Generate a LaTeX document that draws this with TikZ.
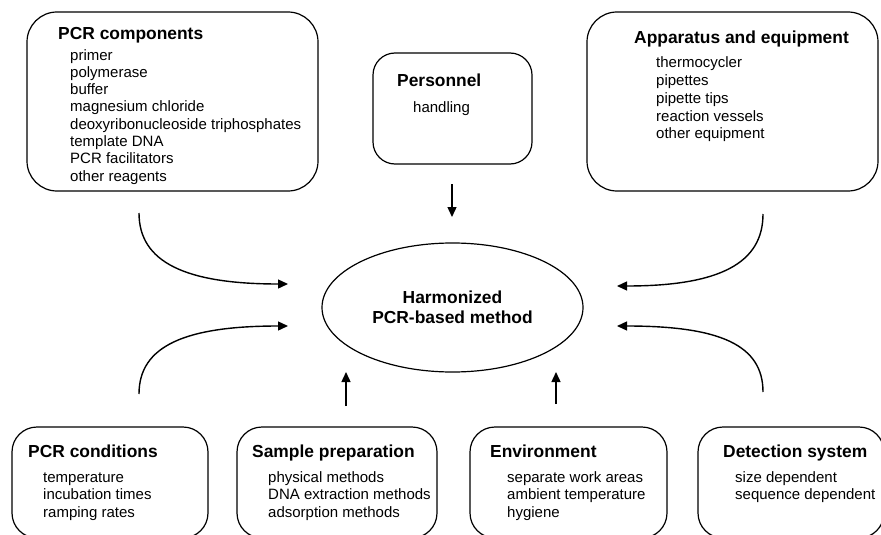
\documentclass[tikz,border=0pt]{standalone}
\usepackage{fontspec}
\setmainfont{Liberation Sans}
\usetikzlibrary{shapes.geometric,arrows.meta}
\begin{document}
\begin{tikzpicture}[x=1pt,y=-1pt,
  box/.style={draw=black, line width=1.2pt, rectangle, inner sep=0pt},
  bigbox/.style={box, rounded corners=30pt, minimum width=291pt, minimum height=179pt},
  lowbox/.style={box, rounded corners=25pt, minimum height=111pt},
  ttl/.style={font=\fontsize{17.4}{20}\selectfont\bfseries, anchor=base west, inner sep=0pt},
  itm/.style={font=\fontsize{15}{17}\selectfont, anchor=base west, inner sep=0pt},
  arr/.style={line width=1.4pt, -{Triangle[length=10pt,width=9pt]}}]
\path[use as bounding box, clip] (0,0) rectangle (881,535);
\fill[white] (0,0) rectangle (881,535);

% top boxes
\node[bigbox] (comp) at (172.5,101.5) {};
\node[ttl] (compT) at (58,40) {PCR components};
\foreach \t [count=\i from 0] in {primer,polymerase,buffer,magnesium chloride,deoxyribonucleoside triphosphates,template DNA,PCR facilitators,other reagents}
  \node[itm] (comp\i) at (70,60+17.3*\i) {\t};

\node[box, rounded corners=22pt, minimum width=159pt, minimum height=111pt] (pers) at (452.5,108.5) {};
\node[ttl] (persT) at (397,86) {Personnel};
\node[itm] (pers0) at (413,112) {handling};

\node[bigbox] (app) at (732.5,101.5) {};
\node[ttl] (appT) at (634,44) {Apparatus and equipment};
\foreach \t [count=\i from 0] in {thermocycler,pipettes,pipette tips,reaction vessels,other equipment}
  \node[itm] (app\i) at (656,68+17.7*\i) {\t};

% centre
\node[ellipse, draw=black, line width=1.2pt, minimum width=261pt, minimum height=129pt,
      align=center, font=\fontsize{17.4}{20}\selectfont\bfseries] (harm) at (452.5,307.5)
      {Harmonized\\PCR-based method};

% bottom boxes
\node[lowbox, minimum width=196pt] (cond) at (110,482.5) {};
\node[ttl] (condT) at (28,457) {PCR conditions};
\foreach \t [count=\i from 0] in {temperature,incubation times,ramping rates}
  \node[itm] (cond\i) at (43,482+17.5*\i) {\t};

\node[lowbox, minimum width=200pt] (samp) at (337,482.5) {};
\node[ttl] (sampT) at (252,457) {Sample preparation};
\foreach \t [count=\i from 0] in {physical methods,DNA extraction methods,adsorption methods}
  \node[itm] (samp\i) at (268,482+17.5*\i) {\t};

\node[lowbox, minimum width=197pt] (env) at (568.5,482.5) {};
\node[ttl] (envT) at (490,457) {Environment};
\foreach \t [count=\i from 0] in {separate work areas,ambient temperature,hygiene}
  \node[itm] (env\i) at (507,482+17.5*\i) {\t};

\node[lowbox, minimum width=186pt] (det) at (791,482.5) {};
\node[ttl] (detT) at (723,457) {Detection system};
\foreach \t [count=\i from 0] in {size dependent,sequence dependent}
  \node[itm] (det\i) at (735,482+17.5*\i) {\t};

% connector end points
\coordinate (tlS) at (139,213); \coordinate (tlE) at (288,284);
\coordinate (blS) at (139,394); \coordinate (blE) at (288,326);
\coordinate (trS) at (763,214); \coordinate (trE) at (617,286);
\coordinate (brS) at (763,392); \coordinate (brE) at (617,326);
\coordinate (pS) at (452,184);  \coordinate (pE) at (452,217);
\coordinate (sS) at (346,406);  \coordinate (sE) at (346,372);
\coordinate (eS) at (556,404);  \coordinate (eE) at (556,372);

\draw[arr] (tlS) .. controls (139,262) and (185,284) .. (tlE);
\draw[arr] (blS) .. controls (139,346) and (185,326) .. (blE);
\draw[arr] (trS) .. controls (763,263) and (720,286) .. (trE);
\draw[arr] (brS) .. controls (763,345) and (720,326) .. (brE);
\draw[arr] (pS) -- (pE);
\draw[arr] (sS) -- (sE);
\draw[arr] (eS) -- (eE);
\end{tikzpicture}
\end{document}
